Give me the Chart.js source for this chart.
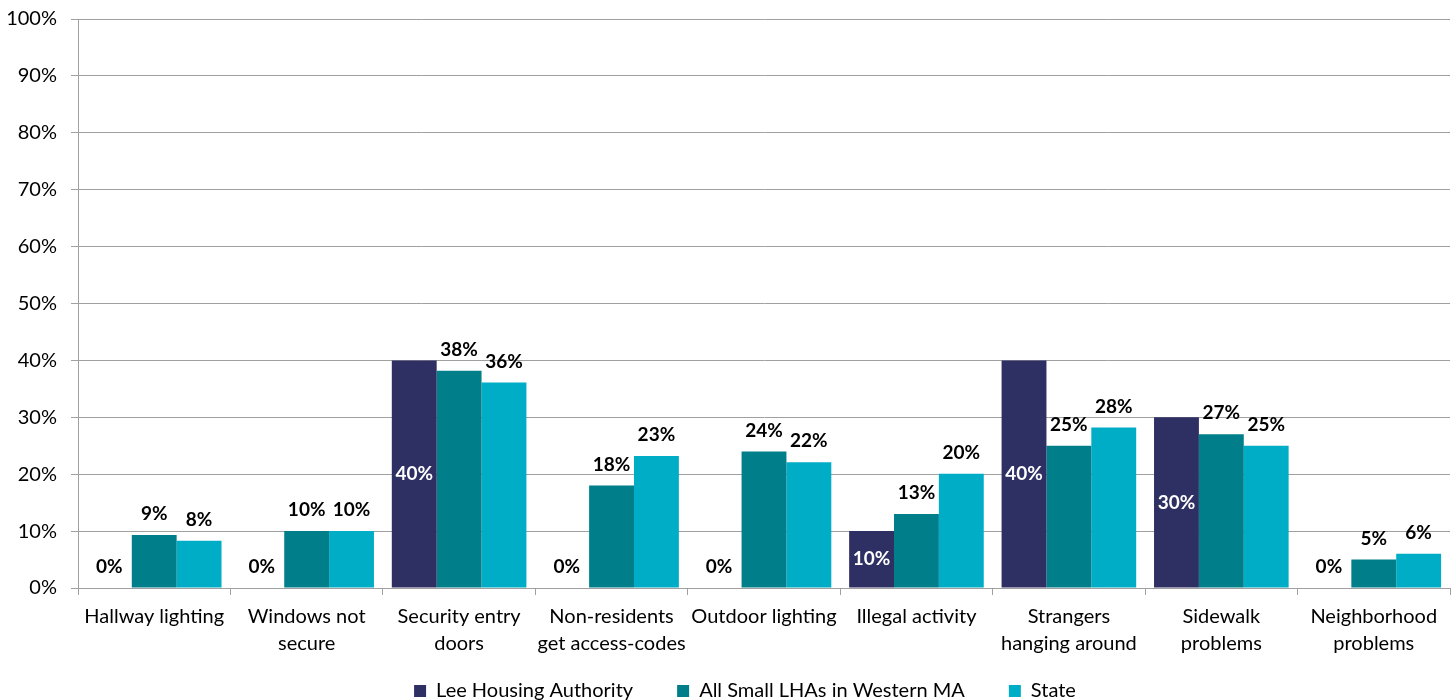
<!DOCTYPE html>
<html>
<head>
<meta charset="utf-8">
<script src="https://cdn.jsdelivr.net/npm/chart.js@4"></script>
<style>
  html, body { margin: 0; padding: 0; background: #fff; }
  #wrap { width: 1455px; height: 700px; }
</style>
</head>
<body>
<div id="wrap"><canvas id="securityChart" width="1455" height="700"></canvas></div>
<script>
var categories = [
  'Hallway lighting',
  ['Windows not', 'secure'],
  ['Security entry', 'doors'],
  ['Non-residents', 'get access-codes'],
  'Outdoor lighting',
  'Illegal activity',
  ['Strangers', 'hanging around'],
  ['Sidewalk', 'problems'],
  ['Neighborhood', 'problems']
];
var leeValues = [0, 0, 40, 0, 0, 10, 40, 30, 0];
var smallLhaValues = [9.3, 10, 38.2, 18, 24, 13, 25, 27, 5];
var stateValues = [8.3, 10, 36.1, 23.2, 22.1, 20.1, 28.2, 25, 6];
var yTicks = [0, 10, 20, 30, 40, 50, 60, 70, 80, 90, 100];

var FONT = 'Lato, "Open Sans", sans-serif';
var fontSize = 20;
var legendPad = 14;
var legendH = fontSize + legendPad + 10;

var barLabels = {
  id: 'barLabels',
  afterLayout: function(chart) {
    // move the legend row a little right and down, like the original
    chart.legend.left += 20;
    chart.legend.right += 20;
    chart.legend.top += 11;
    chart.legend.bottom += 11;
  },
  afterDatasetsDraw: function(chart) {
    var ctx = chart.ctx;
    ctx.save();
    ctx.font = 'bold 19px ' + FONT;
    ctx.textAlign = 'center';
    ctx.textBaseline = 'middle';
    chart.data.datasets.forEach(function(ds, i) {
      chart.getDatasetMeta(i).data.forEach(function(bar, j) {
        var v = ds.data[j];
        var txt = Math.round(v) + '%';
        if (i === 0 && v > 0) {
          ctx.fillStyle = '#ffffff';
          ctx.fillText(txt, bar.x, (bar.y + bar.base) / 2);
        } else {
          ctx.fillStyle = '#000000';
          ctx.fillText(txt, bar.x, bar.y - 21);
        }
      });
    });
    ctx.restore();
  }
};

var ctx = document.getElementById('securityChart').getContext('2d');
var securityChart = new Chart(ctx, {
  type: 'bar',
  data: {
    labels: categories,
    datasets: [{
      label: 'Lee Housing Authority',
      backgroundColor: '#2E2F63',
      data: leeValues
    }, {
      label: 'All Small LHAs in Western MA',
      backgroundColor: '#007F8A',
      data: smallLhaValues
    }, {
      label: 'State',
      backgroundColor: '#00ADC6',
      data: stateValues
    }]
  },
  options: {
    responsive: false,
    animation: false,
    devicePixelRatio: 1,
    categoryPercentage: 0.883,
    barPercentage: 1.0,
    layout: { autoPadding: false, padding: { top: 16, right: 5, left: 0, bottom: 0 } },
    plugins: {
      tooltip: { enabled: false },
      legend: {
        position: 'bottom',
        labels: {
          boxWidth: 12,
          boxHeight: 12,
          padding: legendPad,
          color: '#000',
          font: { family: FONT, size: fontSize },
          generateLabels: function(chart) {
            var items = Chart.defaults.plugins.legend.labels.generateLabels(chart);
            items.forEach(function(it, k) {
              if (k < items.length - 1) it.text = it.text + '\u2003\u2003';
            });
            return items;
          }
        }
      }
    },
    scales: {
      x: {
        afterFit: function(s) { s.height = 700 - legendH - 588; },
        grid: {
          offset: true,
          drawOnChartArea: false,
          drawTicks: true,
          tickLength: 7,
          color: '#A0A0A0'
        },
        border: { display: true, color: '#A0A0A0' },
        ticks: {
          color: '#000',
          padding: 8,
          maxRotation: 0,
          autoSkip: false,
          font: { family: FONT, size: fontSize, lineHeight: 1.35 }
        }
      },
      y: {
        min: 0,
        max: 100,
        afterFit: function(s) { s.width = 78; },
        afterBuildTicks: function(s) { s.ticks = yTicks.map(function(v) { return { value: v }; }); },
        grid: { color: '#A0A0A0', tickLength: 7 },
        border: { display: true, color: '#A0A0A0' },
        ticks: {
          color: '#000',
          padding: 14,
          font: { family: FONT, size: fontSize, lineHeight: 0.5 },
          callback: function(v) { return v + '%'; }
        }
      }
    }
  },
  plugins: [barLabels]
});
</script>
</body>
</html>
